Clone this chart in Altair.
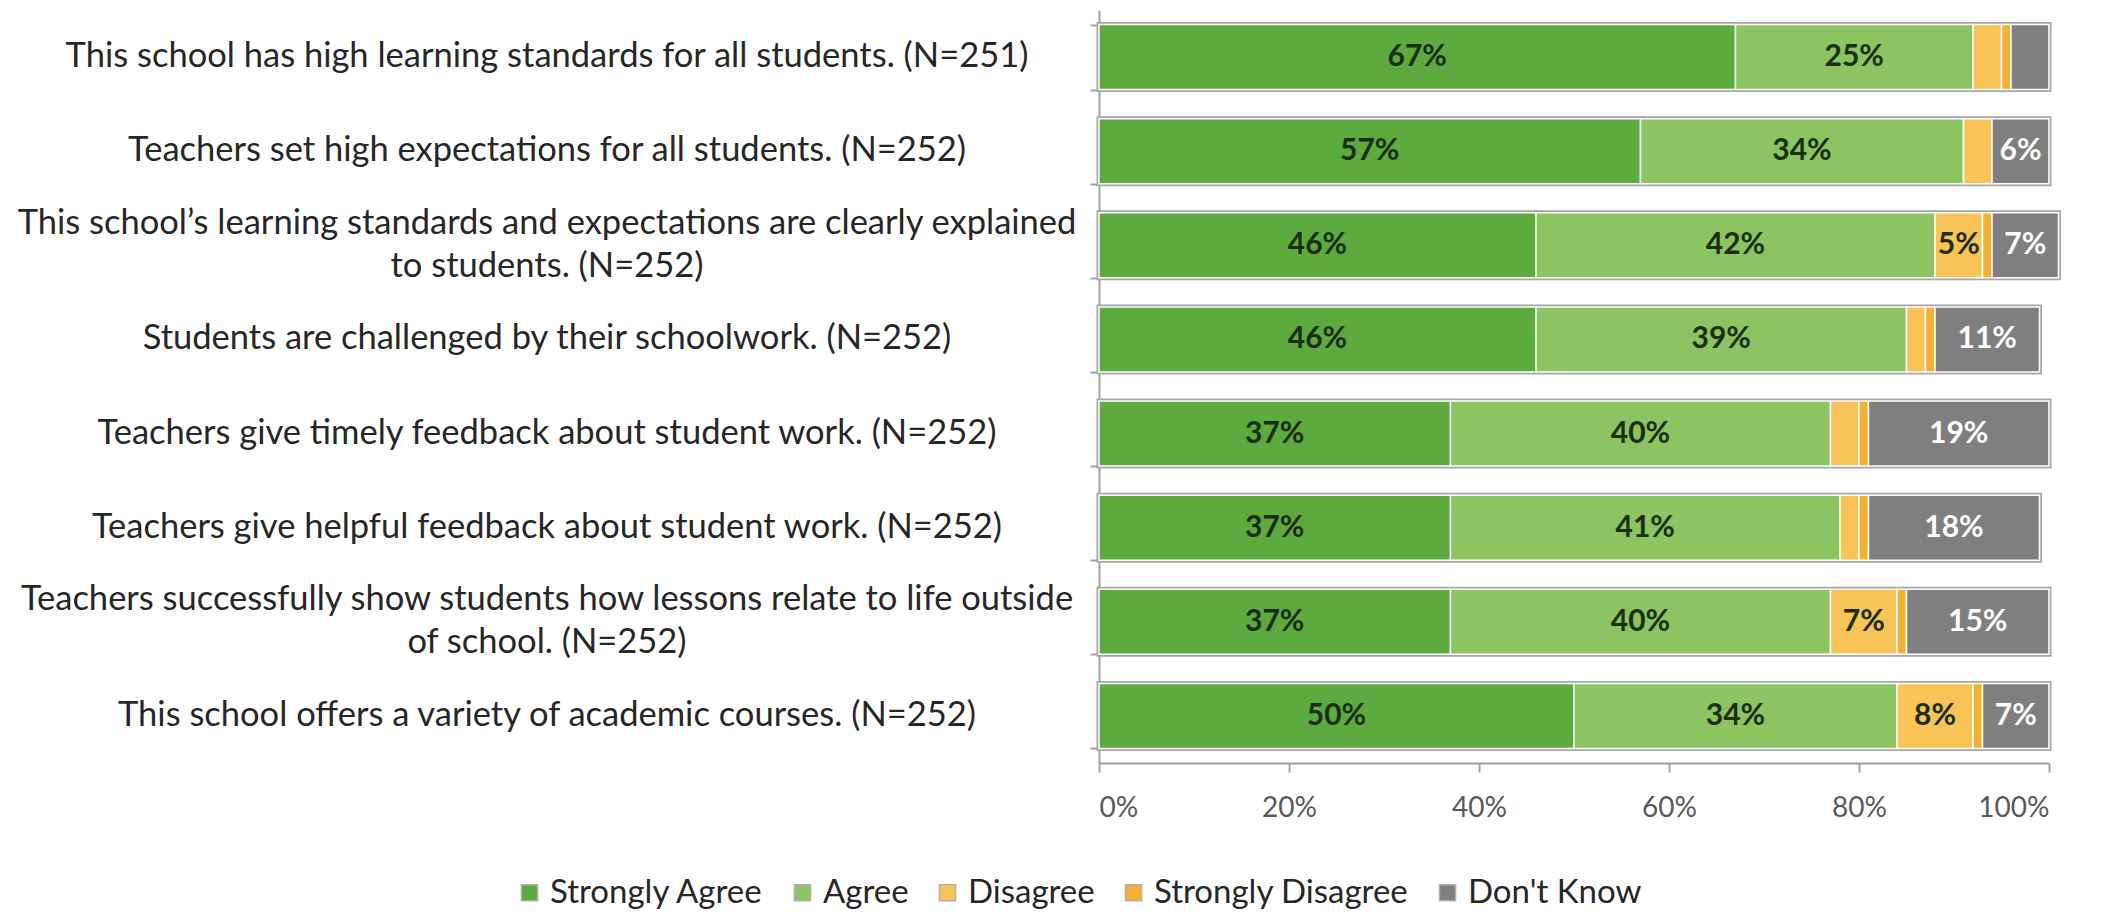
import altair as alt
import pandas as pd

questions = [
    "This school has high learning standards for all students. (N=251)",
    "Teachers set high expectations for all students. (N=252)",
    "This school\u2019s learning standards and expectations are clearly explained|to students. (N=252)",
    "Students are challenged by their schoolwork. (N=252)",
    "Teachers give timely feedback about student work. (N=252)",
    "Teachers give helpful feedback about student work. (N=252)",
    "Teachers successfully show students how lessons relate to life outside|of school. (N=252)",
    "This school offers a variety of academic courses. (N=252)",
]
categories = ["Strongly Agree", "Agree", "Disagree", "Strongly Disagree", "Don't Know"]
strongly_agree = [67, 57, 46, 46, 37, 37, 37, 50]
agree = [25, 34, 42, 39, 40, 41, 40, 34]
disagree = [3, 3, 5, 2, 3, 2, 7, 8]
strongly_disagree = [1, 0, 1, 1, 1, 1, 1, 1]
dont_know = [4, 6, 7, 11, 19, 18, 15, 7]
colors = ["#5DAA3F", "#8BC460", "#F8C457", "#F2B134", "#7F7F7F"]
x_ticks = [0, 20, 40, 60, 80, 100]

series = [strongly_agree, agree, disagree, strongly_disagree, dont_know]
rows = []
for qi, q in enumerate(questions):
    for ci, c in enumerate(categories):
        rows.append({"question": q, "category": c, "order": ci, "value": series[ci][qi]})
df = pd.DataFrame(rows)
qdf = pd.DataFrame({"question": questions})

FONT = "Lato"

base = alt.Chart(df).transform_stack(
    stack="value", groupby=["question"], as_=["x0", "x1"],
    sort=[alt.SortField("order", order="ascending")]
)

yenc = alt.Y(
    "question:N", sort=questions, title=None,
    scale=alt.Scale(paddingInner=0.31, paddingOuter=0.155),
    axis=alt.Axis(
        labels=False,
        tickBand="extent", tickSize=9, tickColor="#A0A0A0", tickWidth=2,
        domainColor="#A0A0A0", domainWidth=2,
    ),
)

xscale = alt.Scale(domain=[0, 100], nice=False)

outline = alt.Chart(df).transform_aggregate(
    total="sum(value)", groupby=["question"]
).transform_calculate(zero="0").mark_bar(
    fill=None, stroke="#A6A6A6", strokeWidth=5
).encode(
    y=yenc,
    x=alt.X("zero:Q", scale=xscale),
    x2="total:Q",
)

segments = base.mark_bar(stroke="white", strokeWidth=1.5).encode(
    y=yenc,
    x=alt.X(
        "x0:Q", scale=xscale, title=None,
        axis=alt.Axis(
            values=x_ticks, labelExpr="datum.value + '%'", grid=False,
            labelFontSize=28, labelColor="#595959", labelFont=FONT,
            labelPadding=22, tickSize=9, tickColor="#A0A0A0", tickWidth=2,
            domainColor="#A0A0A0", domainWidth=2,
        ),
    ),
    x2="x1:Q",
    color=alt.Color(
        "category:N", sort=categories, title=None,
        scale=alt.Scale(domain=categories, range=colors),
        legend=alt.Legend(
            orient="none", legendX=-586, legendY=866, direction="horizontal",
            symbolType="square", symbolSize=260, symbolStrokeColor="#B0B0B0",
            symbolStrokeWidth=1.5, labelFontSize=33, labelFont=FONT,
            labelColor="#262626", labelOffset=4, columnPadding=22,
            labelLimit=600,
        ),
    ),
)

labels = base.transform_calculate(
    mid="(datum.x0 + datum.x1) / 2",
    lab="datum.value >= 5 ? datum.value + '%' : ''",
).mark_text(fontSize=30, fontWeight="bold", font=FONT).encode(
    y=yenc,
    x=alt.X("mid:Q", scale=xscale),
    text="lab:N",
    color=alt.condition("datum.order == 4", alt.value("white"), alt.value("#1B2E12")),
)

qtext = dict(fontSize=34.5, font=FONT, color="#262626", align="center",
             baseline="middle", lineBreak="|", lineHeight=43)

qlabels_single = alt.Chart(qdf).transform_filter(
    "indexof(datum.question, '|') < 0"
).mark_text(**qtext).encode(
    y=yenc, x=alt.value(-552), text="question:N"
)
qlabels_double = alt.Chart(qdf).transform_filter(
    "indexof(datum.question, '|') >= 0"
).mark_text(dy=-21.5, **qtext).encode(
    y=yenc, x=alt.value(-552), text="question:N"
)

chart = alt.layer(outline, segments, labels, qlabels_single, qlabels_double).properties(
    width=950, height=753,
    autosize=alt.AutoSizeParams(type="none"),
    padding={"left": 1091, "top": 2, "right": 52, "bottom": 153},
).configure_view(stroke=None)

chart.save("out.html", embed_options={"renderer": "svg", "actions": False})
